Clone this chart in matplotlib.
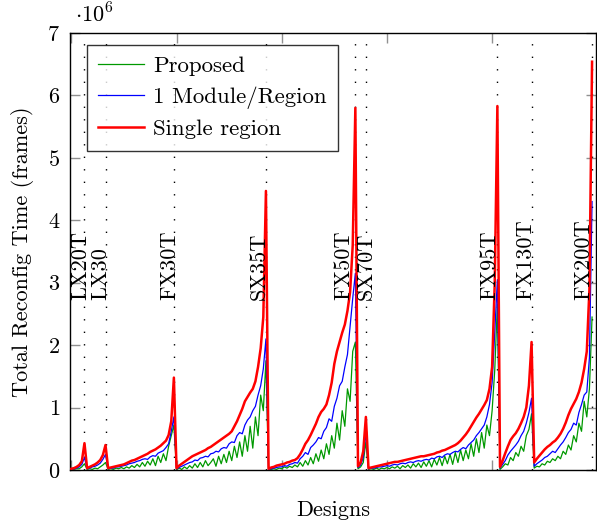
import numpy as np
import matplotlib
matplotlib.use('Agg')
import matplotlib.pyplot as plt

plt.rcParams['font.family'] = ['cmr10', 'DejaVu Serif']
plt.rcParams['mathtext.fontset'] = 'cm'
plt.rcParams['axes.formatter.use_mathtext'] = True

# device families, designs of each family sorted by single-region time
families = ['LX20T', 'LX30', 'FX30T', 'SX35T', 'FX50T', 'SX70T', 'FX95T', 'FX130T', 'FX200T']
seg_sizes = [6, 8, 26, 35, 34, 4, 50, 13, 23]

# total reconfiguration time, in 10^6 frames
single_region = [
    0.02, 0.03, 0.05, 0.08, 0.14, 0.43,
    0.03, 0.05, 0.07, 0.09, 0.12, 0.16, 0.24, 0.40,
    0.03, 0.04, 0.05, 0.06, 0.07, 0.08, 0.09, 0.11, 0.13, 0.15, 0.16, 0.18, 0.20,
    0.22, 0.24, 0.26, 0.29, 0.31, 0.33, 0.36, 0.39, 0.43, 0.47, 0.56, 0.78, 1.48,
    0.03, 0.07, 0.10, 0.13, 0.16, 0.19, 0.22, 0.24, 0.26, 0.28, 0.30, 0.32, 0.35,
    0.37, 0.40, 0.43, 0.46, 0.49, 0.52, 0.55, 0.58, 0.62, 0.70, 0.78, 0.88, 0.98,
    1.10, 1.17, 1.24, 1.30, 1.42, 1.65, 1.95, 2.45, 4.47,
    0.02, 0.04, 0.05, 0.07, 0.08, 0.09, 0.10, 0.12, 0.13, 0.15, 0.16, 0.19, 0.25,
    0.33, 0.42, 0.48, 0.56, 0.65, 0.74, 0.85, 0.93, 0.98, 1.05, 1.20, 1.40, 1.70,
    1.90, 2.05, 2.20, 2.33, 2.55, 2.85, 3.60, 5.80,
    0.06, 0.12, 0.30, 0.85,
    0.03, 0.04, 0.05, 0.06, 0.07, 0.08, 0.09, 0.10, 0.11, 0.12, 0.13, 0.13, 0.14,
    0.15, 0.16, 0.17, 0.18, 0.19, 0.20, 0.21, 0.22, 0.22, 0.23, 0.24, 0.25, 0.26,
    0.28, 0.29, 0.31, 0.32, 0.34, 0.36, 0.38, 0.40, 0.43, 0.47, 0.52, 0.57, 0.63,
    0.70, 0.77, 0.84, 0.90, 0.97, 1.04, 1.12, 1.30, 1.65, 3.00, 5.83,
    0.05, 0.15, 0.27, 0.38, 0.48, 0.54, 0.59, 0.66, 0.75, 0.85, 1.00, 1.35, 2.05,
    0.12, 0.18, 0.23, 0.28, 0.33, 0.37, 0.40, 0.44, 0.47, 0.52, 0.58, 0.66, 0.76,
    0.88, 0.98, 1.06, 1.14, 1.25, 1.40, 1.62, 1.90, 2.90, 6.54,
]
module_region = [
    0.01, 0.02, 0.03, 0.05, 0.09, 0.20,
    0.02, 0.03, 0.05, 0.06, 0.08, 0.11, 0.17, 0.25,
    0.02, 0.03, 0.03, 0.05, 0.05, 0.06, 0.07, 0.08, 0.10, 0.11, 0.12, 0.14, 0.15,
    0.17, 0.18, 0.17, 0.21, 0.23, 0.22, 0.27, 0.29, 0.31, 0.36, 0.42, 0.62, 0.85,
    0.02, 0.04, 0.06, 0.08, 0.10, 0.12, 0.13, 0.16, 0.15, 0.19, 0.20, 0.22, 0.21,
    0.26, 0.27, 0.30, 0.29, 0.34, 0.36, 0.35, 0.42, 0.45, 0.44, 0.55, 0.60, 0.58,
    0.72, 0.80, 0.85, 0.95, 1.02, 1.20, 1.35, 1.62, 2.10,
    0.01, 0.02, 0.03, 0.04, 0.05, 0.05, 0.07, 0.06, 0.09, 0.10, 0.12, 0.11, 0.18,
    0.22, 0.28, 0.25, 0.36, 0.40, 0.45, 0.52, 0.50, 0.62, 0.68, 0.82, 0.78, 1.02,
    1.15, 1.35, 1.42, 1.65, 1.85, 2.30, 2.75, 3.15,
    0.04, 0.08, 0.20, 0.60,
    0.02, 0.03, 0.03, 0.04, 0.05, 0.05, 0.06, 0.07, 0.06, 0.08, 0.09, 0.08, 0.10,
    0.11, 0.10, 0.12, 0.13, 0.12, 0.14, 0.15, 0.14, 0.16, 0.17, 0.16, 0.19, 0.18,
    0.21, 0.22, 0.20, 0.24, 0.26, 0.25, 0.28, 0.30, 0.29, 0.33, 0.36, 0.34, 0.40,
    0.44, 0.48, 0.55, 0.60, 0.66, 0.72, 0.85, 1.05, 1.40, 2.20, 3.05,
    0.03, 0.09, 0.15, 0.24, 0.30, 0.35, 0.40, 0.46, 0.55, 0.62, 0.75, 0.92, 1.15,
    0.06, 0.10, 0.13, 0.16, 0.20, 0.22, 0.26, 0.30, 0.28, 0.34, 0.40, 0.45, 0.52,
    0.60, 0.65, 0.75, 0.72, 0.92, 1.05, 1.20, 1.25, 1.80, 4.30,
]
proposed = [
    0.00, 0.01, 0.02, 0.02, 0.05, 0.10,
    0.01, 0.02, 0.01, 0.03, 0.02, 0.05, 0.08, 0.12,
    0.01, 0.02, 0.01, 0.03, 0.02, 0.04, 0.02, 0.05, 0.03, 0.07, 0.04, 0.09, 0.05,
    0.12, 0.06, 0.14, 0.08, 0.18, 0.07, 0.22, 0.12, 0.26, 0.15, 0.38, 0.55, 0.72,
    0.01, 0.03, 0.01, 0.05, 0.02, 0.07, 0.03, 0.10, 0.04, 0.12, 0.05, 0.15, 0.07,
    0.12, 0.18, 0.06, 0.22, 0.10, 0.25, 0.12, 0.30, 0.15, 0.38, 0.20, 0.45, 0.22,
    0.55, 0.30, 0.70, 0.35, 0.85, 0.55, 1.20, 0.95, 1.75,
    0.00, 0.01, 0.02, 0.01, 0.03, 0.02, 0.05, 0.03, 0.06, 0.04, 0.08, 0.05, 0.12,
    0.06, 0.15, 0.08, 0.20, 0.10, 0.26, 0.14, 0.32, 0.18, 0.42, 0.25, 0.55, 0.35,
    0.75, 0.48, 0.95, 0.70, 1.30, 1.10, 1.90, 2.05,
    0.02, 0.05, 0.12, 0.45,
    0.01, 0.02, 0.01, 0.03, 0.01, 0.03, 0.02, 0.04, 0.02, 0.05, 0.03, 0.06, 0.02,
    0.07, 0.04, 0.08, 0.03, 0.10, 0.05, 0.11, 0.04, 0.13, 0.06, 0.15, 0.05, 0.17,
    0.08, 0.20, 0.07, 0.22, 0.10, 0.25, 0.09, 0.28, 0.12, 0.32, 0.15, 0.32, 0.18,
    0.42, 0.22, 0.50, 0.28, 0.60, 0.35, 0.72, 0.55, 0.95, 1.60, 2.65,
    0.01, 0.05, 0.10, 0.08, 0.20, 0.15, 0.28, 0.22, 0.38, 0.30, 0.55, 0.65, 0.90,
    0.03, 0.06, 0.05, 0.10, 0.08, 0.14, 0.12, 0.18, 0.15, 0.22, 0.18, 0.30, 0.25,
    0.40, 0.32, 0.55, 0.45, 0.75, 0.62, 1.10, 0.85, 1.30, 2.45,
]

n = sum(seg_sizes)
assert len(single_region) == n and len(module_region) == n and len(proposed) == n
designs = np.arange(n)
seg_end = np.cumsum(seg_sizes) - 1

# label anchors (baseline of rotated text)
label_x = [5.58, 13.45, 39.42, 73.38, 105.7, 114.3, 161.3, 175.05, 196.8]
label_y = 2.72

fig = plt.figure(figsize=(5.97, 5.25), dpi=100)
ax = fig.add_axes([70/597, 1-470/525, 526/597, 437/525])

for e in seg_end:
    ax.axvline(e, color='black', lw=1.0, linestyle=(0, (1, 8)), zorder=1)

ax.plot(designs, proposed, color='#009900', lw=0.9, label='Proposed', zorder=2)
ax.plot(designs, module_region, color='#0000ff', lw=0.9, label='1 Module/Region', zorder=3)
ax.plot(designs, single_region, color='#ff0000', lw=1.8, label='Single region', zorder=4)

for name, lx in zip(families, label_x):
    ax.text(lx, label_y, name, rotation=90, rotation_mode='anchor',
            ha='left', va='baseline', fontsize=16, zorder=5)

ax.set_xlim(-0.5, 199.5)
ax.set_ylim(0, 7)
ax.set_xticks([0, 40, 80, 120, 160])
ax.set_yticks(range(8))
ax.tick_params(direction='in', length=7, width=1.0, color='#909090',
               top=True, right=True, labelbottom=False, labelsize=16, pad=7)
for s in ax.spines.values():
    s.set_linewidth(1.0)

ax.text(0.0095, 1.025, r'$\cdot10^{6}$', transform=ax.transAxes,
        ha='left', va='baseline', fontsize=16)
ax.set_xlabel('Designs', fontsize=16, labelpad=22)
ax.set_ylabel('Total Reconfig Time (frames)', fontsize=16, labelpad=10)

leg = ax.legend(loc='upper left', bbox_to_anchor=(0.032, 0.973), borderaxespad=0,
                fontsize=16.5, frameon=True, fancybox=False, edgecolor='black',
                handlelength=2.0, labelspacing=0.45, borderpad=0.5, handletextpad=0.4)
leg.get_frame().set_linewidth(1.0)

fig.savefig('out.png', dpi=100)
